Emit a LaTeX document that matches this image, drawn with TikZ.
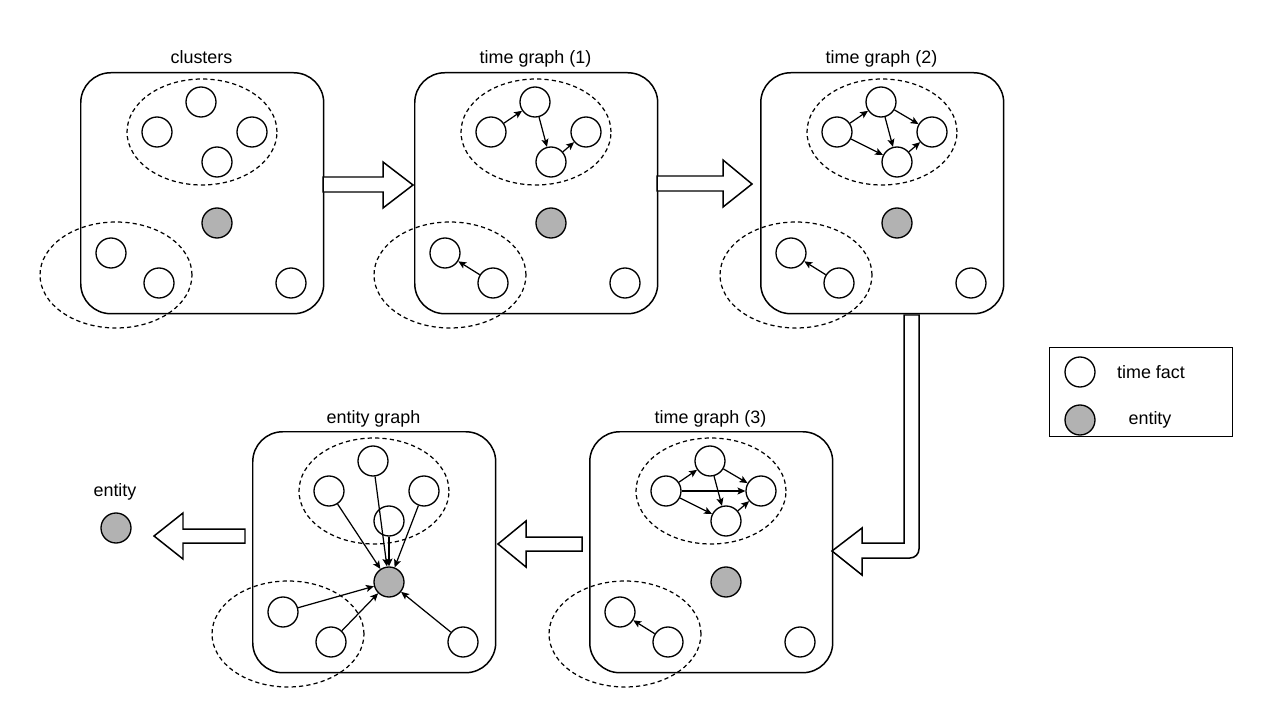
\documentclass[tikz,border=0pt]{standalone}
\usepackage{fontspec}
\setmainfont{Liberation Sans}
\usepackage{xcolor}
\colorlet{colEntity}{black!30}
\usepackage{tikz}
\usetikzlibrary{arrows.meta, positioning, calc}

\begin{document}
\begin{tikzpicture}[x=0.02cm, y=-0.02cm,
		font=\fontsize{10.2}{12}\selectfont,
		panelbox/.style={draw, line width=0.85pt, rounded corners=0.6cm, minimum width=4.86cm, minimum height=4.82cm, inner sep=0pt, fill=white},
		fact/.style={circle, draw, line width=0.75pt, fill=white, minimum size=0.6cm, inner sep=0pt},
		ent/.style={fact, fill=colEntity},
		cluster/.style={draw, line width=0.7pt, dash pattern=on 2.4pt off 1.8pt},
		link/.style={-{Stealth[length=4.5pt, width=4pt, inset=1pt]}, line width=0.7pt},
		bigarrow/.style={draw, line width=0.85pt, fill=white, line join=miter}]
	\useasboundingbox (0,0) rectangle (1268,723);
	% panels
	\foreach \n/\x/\y/\t in {p1/80/72/clusters, p2/414/72/time graph (1), p3/760/72/time graph (2), p4/589/431/time graph (3), p5/252/431/entity graph} {
		\node[panelbox, anchor=north west] (\n) at (\x,\y) {};
		\node[anchor=base] (\n-title) at (\x+121.5,\y-8) {\t};
		\draw[cluster] (\x+122,\y+60) ellipse [x radius=1.5cm, y radius=1.06cm];
		\draw[cluster] (\x+36,\y+203) ellipse [x radius=1.52cm, y radius=1.06cm];
		\node[fact] (\n-top) at (\x+121,\y+30) {};
		\node[fact] (\n-left) at (\x+77,\y+60) {};
		\node[fact] (\n-right) at (\x+172,\y+60) {};
		\node[fact] (\n-mid) at (\x+137,\y+90) {};
		\node[ent] (\n-ent) at (\x+137,\y+151) {};
		\node[fact] (\n-la) at (\x+31,\y+181) {};
		\node[fact] (\n-lb) at (\x+79,\y+211) {};
		\node[fact] (\n-lr) at (\x+211,\y+211) {};
	}
	% time graph (1)
	\draw[link] (p2-left) -- (p2-top);
	\draw[link] (p2-top) -- (p2-mid);
	\draw[link] (p2-mid) -- (p2-right);
	\draw[link] (p2-lb) -- (p2-la);
	% time graph (2)
	\draw[link] (p3-left) -- (p3-top);
	\draw[link] (p3-left) -- (p3-mid);
	\draw[link] (p3-top) -- (p3-mid);
	\draw[link] (p3-top) -- (p3-right);
	\draw[link] (p3-mid) -- (p3-right);
	\draw[link] (p3-lb) -- (p3-la);
	% time graph (3)
	\draw[link] (p4-left) -- (p4-top);
	\draw[link] (p4-left) -- (p4-right);
	\draw[link] (p4-left) -- (p4-mid);
	\draw[link] (p4-top) -- (p4-right);
	\draw[link] (p4-top) -- (p4-mid);
	\draw[link] (p4-mid) -- (p4-right);
	\draw[link] (p4-lb) -- (p4-la);
	% entity graph
	\foreach \s in {top, left, right, mid, la, lb, lr}
		\draw[link] (p5-\s) -- (p5-ent);
	% block arrows
	\draw[bigarrow] (323,177) -- (383,177) -- (383,162) -- (413,185) -- (383,208) -- (383,192) -- (323,192) -- cycle;
	\draw[bigarrow] (657,176) -- (723,176) -- (723,160) -- (752,184) -- (723,207) -- (723,191) -- (657,191) -- cycle;
	\draw[bigarrow] (904,315) -- (904,543) -- (862,543) -- (862,528) -- (832,551) -- (862,575) -- (862,558) [rounded corners=0.18cm] -- (919,558) [sharp corners] -- (919,315) -- cycle;
	\draw[bigarrow] (582,537) -- (526,537) -- (526,521) -- (498,544) -- (526,567) -- (526,551) -- (582,551) -- cycle;
	\draw[bigarrow] (245,529) -- (183,529) -- (183,513) -- (154,536) -- (183,559) -- (183,543) -- (245,543) -- cycle;
	% result
	\node[ent] (out) at (116,528) {};
	\node (out-label) at (115,492) {entity};
	% legend
	\node[draw, line width=0.7pt, minimum width=3.66cm, minimum height=1.78cm, anchor=north west] (legend) at (1049,347) {};
	\node[fact] (lg-fact) at (1080,372) {};
	\node[ent] (lg-ent) at (1080,420) {};
	\node (lg-fact-label) at (1151,372) {time fact};
	\node (lg-ent-label) at (1150,420) {entity};
\end{tikzpicture}
\end{document}
